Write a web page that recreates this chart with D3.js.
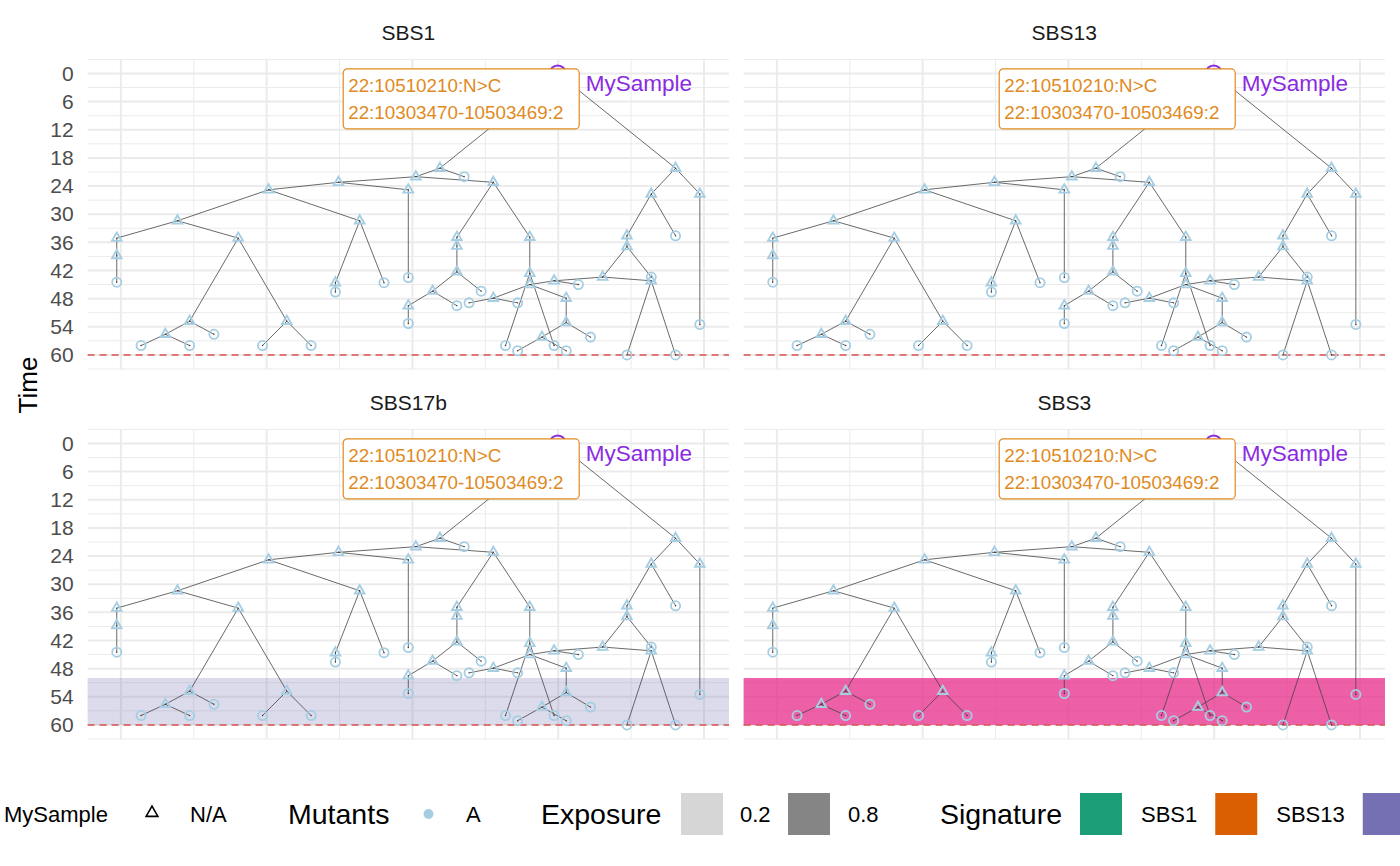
<!DOCTYPE html>
<html>
<head>
<meta charset="utf-8">
<script src="https://cdn.jsdelivr.net/npm/d3@7"></script>
<style>
  body { margin: 0; background: #fff; }
  text { font-family: "Liberation Sans", Arial, sans-serif; }
</style>
</head>
<body>
<svg></svg>
<script>
let width = 1400, height = 866;

let svg = d3.select("svg")
    .attr("width", width)
    .attr("height", height);

// facets
const signatures = ["SBS1", "SBS13", "SBS17b", "SBS3"];
const sigColors = ["#1B9E77", "#D95F02", "#7570B3", "#E7298A"];
const exposureFrom = [null, null, 50, 50];
const exposureTo = [null, null, 60, 60];
const exposureAlpha = [0, 0, 0.25, 0.75];

// tree nodes (layout position, time, parent)
const nodeNames   = ["R","A","S","B","a1","D","C","F","E","e1","G","H","I","J","I2","i1","K","L","K1","k1","k2","k3","l1","l2","H1","h1","h2","M","N","M2","M3","M4","m1","M5","m2","m3","N2","n1","n2","T","U","u1","Q1","t1","Q2","P","q1","X","W","w1","w2","N3","x1","Y","Z","y1","y2","Z2","V","z1","v1","v2"];
const nodeParents = [null,"R","R","A","A","B","B","D","D","E","F","F","G","G","I","I2","J","J","K","K","K1","K1","L","L","H","H","H1","C","C","M","M2","M3","M3","M4","M4","M5","N","N2","N2","S","S","U","T","T","Q1","Q2","Q2","P","P","W","W","X","X","N3","N3","Y","Y","Z","Z2","Z2","V","V"];
const nodePos     = [18.15,13.3,23,12.31,14.3,9.125,15.5,6.25,12,12,2.5,10,0,5,0,0,3,7,2,4,1,3,6,8,9,11,9,14,17,14,14,13,15,12,14,12,17,16,18,22,24,24,21,23,21,20,22,18,22,21,23,17,19,15.5,18.5,14.5,16.5,18.5,17.5,19.5,16.5,18.5];
const nodeTime    = [0,20.2,20.2,22.0,22.0,23.2,23.2,24.8,24.8,43.5,31.4,31.4,35.1,35.1,38.8,44.5,52.8,52.8,55.6,55.6,58,58,58,58,44.6,44.6,46.6,34.9,34.9,36.8,42.3,46.4,46.4,49.5,49.5,53.3,42.6,58,58,25.7,25.7,53.5,34.6,34.6,36.9,43.4,43.4,44.2,44.2,60,60,45.0,45.0,47.9,47.9,48.9,48.9,53.1,56.2,56.2,59.1,59.1];
const nodeShape   = ["root","tri","tri","tri","circ","tri","tri","tri","tri","circ","tri","tri","tri","tri","tri","circ","tri","tri","tri","circ","circ","circ","circ","circ","tri","circ","circ","tri","tri","tri","tri","tri","circ","tri","circ","circ","tri","circ","circ","tri","tri","circ","tri","circ","tri","tri","circ","tri","tri","circ","circ","tri","circ","tri","tri","circ","circ","tri","tri","circ","circ","circ"];

const sampleName = "MySample";
const labelLines = ["22:10510210:N>C", "22:10303470-10503469:2"];
const cutoffTime = 60;

const timeTicks = d3.range(0, 61, 6);
const timeGrid = d3.range(-3, 64, 3);
const posGrid = d3.range(0.17, 25.2, 3);

// legend entries visible in the window
const legendSignatures = ["SBS1", "SBS13", ""];
const exposureLabels = ["0.2", "0.8"];
const exposureKeyFill = ["#d6d6d6", "#858585"];

const nodes = nodeNames.map((n, i) => ({ name: n, parent: nodeParents[i], pos: nodePos[i], time: nodeTime[i], shape: nodeShape[i] }));
const byName = {};
nodes.forEach(d => byName[d.name] = d);
const edges = nodes.filter(d => d.parent).map(d => ({ from: byName[d.parent], to: d }));

// layout
const colX = [87.6, 743.6], rowY = [59.4, 429.4];
const panelW = 641.4, panelH = 309.6;
const nodeCol = "#a6cee3";

signatures.forEach((sig, i) => {
    let col = i % 2, row = Math.floor(i / 2);
    let x = d3.scaleLinear().domain([-1.2, 25.2]).range([colX[col], colX[col] + panelW]);
    let y = d3.scaleLinear().domain([-3, 63]).range([rowY[row], rowY[row] + panelH]);
    let g = svg.append("g").attr("class", "panel");

    // grid
    g.selectAll("line.gy").data(timeGrid).enter().append("line")
        .attr("x1", colX[col]).attr("x2", colX[col] + panelW)
        .attr("y1", d => y(d)).attr("y2", d => y(d))
        .attr("stroke", "#ebebeb")
        .attr("stroke-width", d => d % 6 === 0 ? 2 : 1);
    g.selectAll("line.gx").data(posGrid).enter().append("line")
        .attr("x1", d => x(d)).attr("x2", d => x(d))
        .attr("y1", rowY[row]).attr("y2", rowY[row] + panelH)
        .attr("stroke", "#ebebeb")
        .attr("stroke-width", (d, j) => j % 2 === 0 ? 2 : 1);

    // strip title
    g.append("text")
        .attr("x", colX[col] + panelW / 2)
        .attr("y", rowY[row] - 19)
        .attr("text-anchor", "middle")
        .attr("font-size", 21)
        .attr("fill", "#1a1a1a")
        .text(sig);

    // exposure band
    if (exposureFrom[i] !== null) {
        g.append("rect")
            .attr("x", colX[col]).attr("width", panelW)
            .attr("y", y(exposureFrom[i]))
            .attr("height", y(exposureTo[i]) - y(exposureFrom[i]))
            .attr("fill", sigColors[i])
            .attr("fill-opacity", exposureAlpha[i]);
    }

    // cutoff line
    g.append("line")
        .attr("x1", colX[col]).attr("x2", colX[col] + panelW)
        .attr("y1", y(cutoffTime)).attr("y2", y(cutoffTime))
        .attr("stroke", "#d9534f")
        .attr("stroke-width", 1.5)
        .attr("stroke-dasharray", "7,5");

    // y axis on left panels
    if (col === 0) {
        let ax = g.append("g")
            .attr("transform", "translate(" + (colX[0] - 14) + ",0)")
            .call(d3.axisLeft(y).tickValues(timeTicks).tickSize(0).tickPadding(0));
        ax.select(".domain").remove();
        ax.selectAll("text")
            .attr("font-size", 21)
            .attr("font-family", "Liberation Sans, Arial, sans-serif")
            .attr("fill", "#4d4d4d");
    }

    // edges
    g.selectAll("line.edge").data(edges).enter().append("line")
        .attr("class", "edge")
        .attr("x1", d => x(d.from.pos)).attr("y1", d => y(d.from.time))
        .attr("x2", d => x(d.to.pos)).attr("y2", d => y(d.to.time))
        .attr("stroke", "#444")
        .attr("stroke-width", 0.8);

    // nodes
    g.selectAll("circle.leaf").data(nodes.filter(d => d.shape === "circ")).enter().append("circle")
        .attr("cx", d => x(d.pos)).attr("cy", d => y(d.time))
        .attr("r", 4.6)
        .attr("fill", "none")
        .attr("stroke", nodeCol)
        .attr("stroke-width", 1.8);
    g.selectAll("path.tri").data(nodes.filter(d => d.shape === "tri")).enter().append("path")
        .attr("d", d3.symbol(d3.symbolTriangle).size(40))
        .attr("transform", d => "translate(" + x(d.pos) + "," + y(d.time) + ")")
        .attr("fill", "none")
        .attr("stroke", nodeCol)
        .attr("stroke-width", 1.9);
    g.selectAll("circle.dot").data(nodes.filter(d => d.shape !== "root")).enter().append("circle")
        .attr("cx", d => x(d.pos)).attr("cy", d => y(d.time))
        .attr("r", 0.7)
        .attr("fill", "#333");

    // root sample
    let root = nodes[0];
    let rx = x(root.pos), ry = y(root.time);
    g.append("circle")
        .attr("cx", rx).attr("cy", ry).attr("r", 8)
        .attr("fill", "none")
        .attr("stroke", "#8a2be2")
        .attr("stroke-width", 2);
    g.append("text")
        .attr("x", rx + 28).attr("y", ry + 18)
        .attr("font-size", 22.5)
        .attr("fill", "#8a2be2")
        .text(sampleName);

    // mutation label
    let lb = g.append("g").attr("transform", "translate(" + (rx - 214.5) + "," + (ry - 4.5) + ")");
    lb.append("rect")
        .attr("width", 236).attr("height", 60).attr("rx", 4)
        .attr("fill", "#fff")
        .attr("stroke", "#e08a1e")
        .attr("stroke-width", 1.2);
    lb.selectAll("text").data(labelLines).enter().append("text")
        .attr("x", 5)
        .attr("y", (d, j) => 23 + j * 27.5)
        .attr("font-size", 18.8)
        .attr("fill", "#e08a1e")
        .text(d => d);
});

// y axis title
svg.append("text")
    .attr("transform", "translate(37,385) rotate(-90)")
    .attr("text-anchor", "middle")
    .attr("font-size", 26)
    .attr("fill", "#000")
    .text("Time");

// legend
const legendY = 814;
let lg = svg.append("g");
lg.append("text").attr("x", 4).attr("y", legendY + 8).attr("font-size", 22).text(sampleName);
lg.append("path")
    .attr("d", d3.symbol(d3.symbolTriangle).size(60))
    .attr("transform", "translate(152," + (legendY - 1) + ")")
    .attr("fill", "none").attr("stroke", "#000").attr("stroke-width", 1.6);
lg.append("text").attr("x", 190).attr("y", legendY + 8).attr("font-size", 22).text("N/A");

lg.append("text").attr("x", 288).attr("y", legendY + 10).attr("font-size", 28.5).text("Mutants");
lg.append("circle").attr("cx", 428.5).attr("cy", legendY).attr("r", 5).attr("fill", nodeCol);
lg.append("text").attr("x", 466).attr("y", legendY + 8).attr("font-size", 22).text("A");

lg.append("text").attr("x", 541).attr("y", legendY + 10).attr("font-size", 28.5).text("Exposure");
exposureLabels.forEach((t, j) => {
    lg.append("rect").attr("x", 681 + j * 107).attr("y", legendY - 21).attr("width", 42).attr("height", 42).attr("fill", exposureKeyFill[j]);
    lg.append("text").attr("x", 740 + j * 108).attr("y", legendY + 8).attr("font-size", 22).text(t);
});

lg.append("text").attr("x", 940).attr("y", legendY + 10).attr("font-size", 28.5).text("Signature");
let sx = 1080;
legendSignatures.forEach((s, j) => {
    lg.append("rect").attr("x", sx).attr("y", legendY - 21).attr("width", 42).attr("height", 42).attr("fill", sigColors[j]);
    if (s) {
        let t = lg.append("text").attr("x", sx + 61).attr("y", legendY + 8).attr("font-size", 22).text(s);
        sx += 61 + t.node().getComputedTextLength() + 18;
    }
});
</script>
</body>
</html>
